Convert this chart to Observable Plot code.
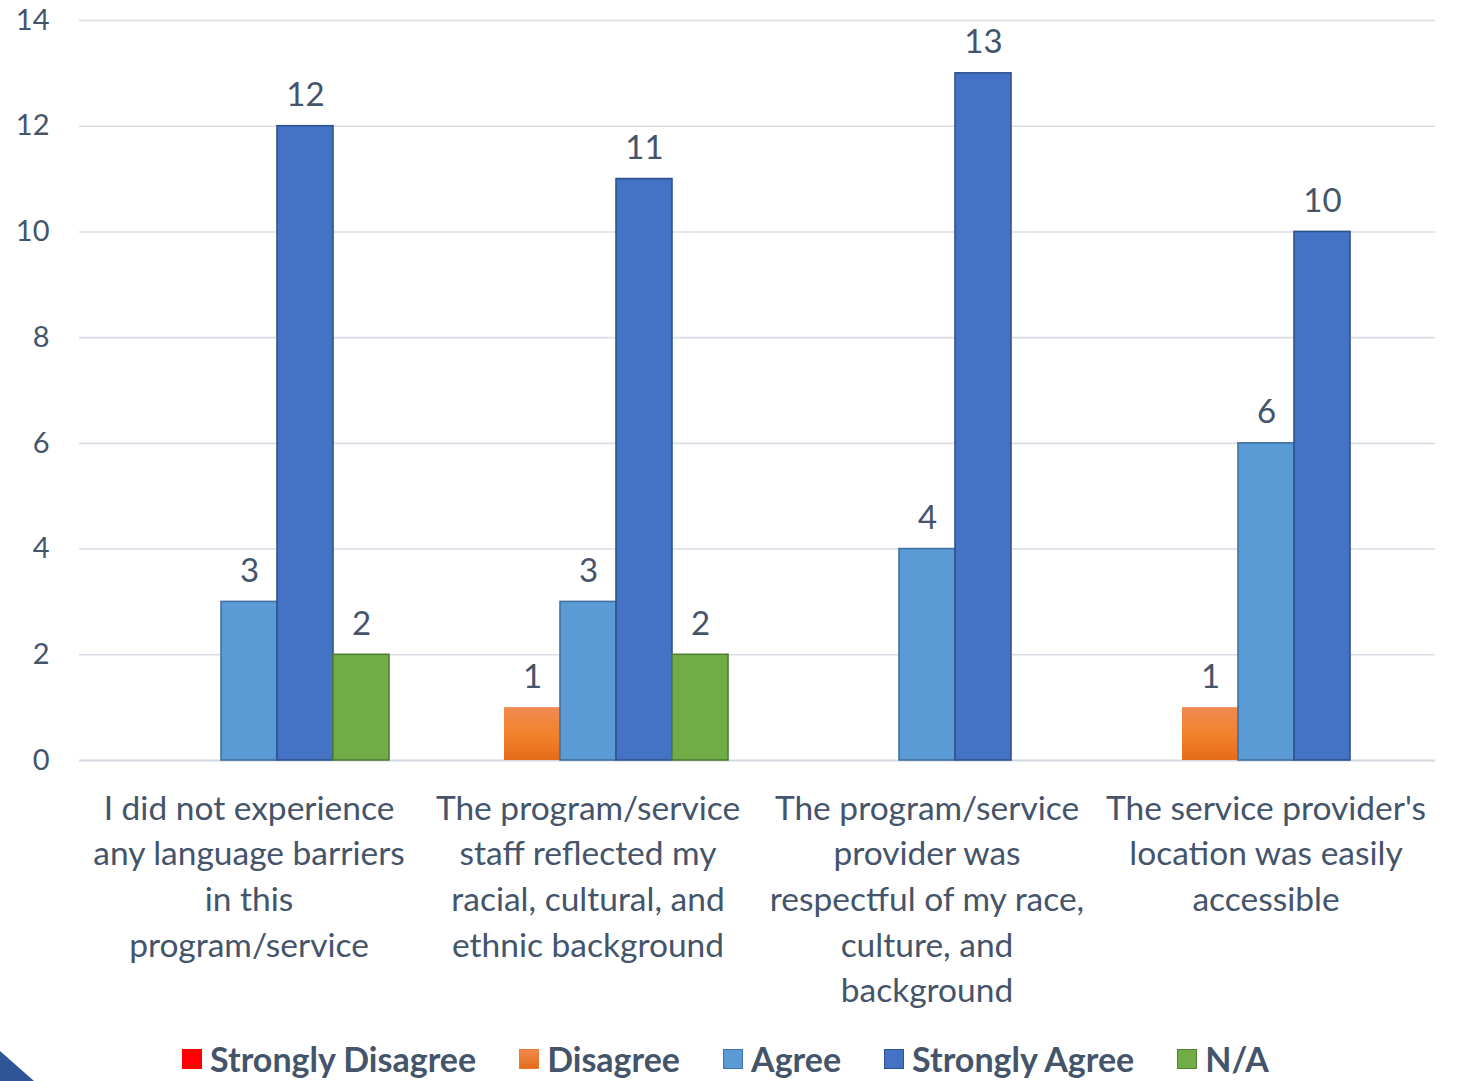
<!DOCTYPE html>
<html><head><meta charset="utf-8">
<script src="https://cdn.jsdelivr.net/npm/d3@7"></script>
<script src="https://cdn.jsdelivr.net/npm/@observablehq/plot@0.6"></script>
<style>
html,body{margin:0;padding:0;background:#fff}
body{width:1461px;height:1081px;overflow:hidden;position:relative;font-family:Lato,"Open Sans",sans-serif}
#chart{position:absolute;left:0;top:0}
#legend{position:absolute;left:0;top:1036px;width:1451px;height:45px;display:flex;justify-content:center;align-items:center;gap:43px;box-sizing:border-box}
.item{display:flex;align-items:center;gap:8px;font-weight:700;font-size:34px;color:#44546A;white-space:nowrap}
.sw{width:18px;height:18px;border:1.5px solid transparent}
.tri{position:absolute;left:0;bottom:0;width:0;height:0;border-left:34px solid #2F5597;border-top:30px solid transparent}
</style></head><body>
<div id="chart"></div>
<div id="legend"></div>
<div class="tri"></div>
<script>
const categories = [
  "I did not experience any language barriers in this program/service",
  "The program/service staff reflected my racial, cultural, and ethnic background",
  "The program/service provider was respectful of my race, culture, and background",
  "The service provider's location was easily accessible"
];
const categoryLines = [
  "I did not experience\nany language barriers\nin this\nprogram/service",
  "The program/service\nstaff reflected my\nracial, cultural, and\nethnic background",
  "The program/service\nprovider was\nrespectful of my race,\nculture, and\nbackground",
  "The service provider's\nlocation was easily\naccessible"
];
const series = ["Strongly Disagree", "Disagree", "Agree", "Strongly Agree", "N/A"];
const stronglyDisagree = [0, 0, 0, 0];
const disagree = [0, 1, 0, 1];
const agree = [3, 3, 4, 6];
const stronglyAgree = [12, 11, 13, 10];
const notApplicable = [2, 2, 0, 0];
const yTicks = [0, 2, 4, 6, 8, 10, 12, 14];

const seriesValues = [stronglyDisagree, disagree, agree, stronglyAgree, notApplicable];
const fills = ["#FF0000", "url(#orangeGrad)", "#5B9BD5", "#4472C4", "#70AD47"];
const strokes = ["none", "none", "#41719C", "#2F528F", "#507E32"];
const swatchFill = ["#FF0000", "linear-gradient(#F08A50,#E46C1A)", "#5B9BD5", "#4472C4", "#70AD47"];
const swatchStroke = ["#FF0000", "#E97A30", "#41719C", "#2F528F", "#507E32"];

const rows = [];
categories.forEach((c, i) => series.forEach((s, j) => {
  const v = seriesValues[j][i];
  if (v > 0) rows.push({category: c, series: s, value: v, fill: fills[j], stroke: strokes[j]});
}));
const labelOf = new Map(categories.map((c, i) => [c, categoryLines[i]]));

const textColor = "#44546A";
const chart = Plot.plot({
  width: 1461, height: 1030,
  marginLeft: 78, marginRight: 25, marginTop: 20, marginBottom: 270,
  fx: {domain: categories, padding: 0, label: null},
  x: {domain: series, paddingInner: 0, paddingOuter: 0.478, axis: null},
  y: {domain: [0, 14], axis: null},
  color: {type: "identity"},
  style: {fontFamily: "Lato, 'Open Sans', sans-serif", color: textColor, background: "white", overflow: "visible"},
  marks: [
    Plot.ruleY(yTicks.filter(t => t > 0), {stroke: "#D9DEE6", strokeWidth: 1.6}),
    Plot.ruleY([0], {stroke: "#D3D8E0", strokeWidth: 2}),
    Plot.axisY({ticks: yTicks, tickSize: 0, tickPadding: 30, fontSize: 29, fill: textColor, label: null}),
    Plot.axisFx({anchor: "bottom", tickSize: 0, tickPadding: 27, fontSize: 33.5, lineHeight: 1.36, fill: textColor, label: null, tickFormat: c => labelOf.get(c)}),
    Plot.barY(rows, {fx: "category", x: "series", y: "value", fill: "fill", stroke: "stroke", strokeWidth: 1.6}),
    Plot.text(rows, {fx: "category", x: "series", y: "value", text: d => String(d.value), lineAnchor: "bottom", dy: -20, fontSize: 33, fill: textColor})
  ]
});
d3.select(chart).insert("defs", ":first-child").html(
  '<linearGradient id="orangeGrad" x1="0" y1="0" x2="0" y2="1"><stop offset="0" stop-color="#F08A50"/><stop offset="0.5" stop-color="#F3822E"/><stop offset="1" stop-color="#E46C1A"/></linearGradient>'
);
document.getElementById("chart").appendChild(chart);

const legend = d3.select("#legend");
series.forEach((s, j) => {
  const it = legend.append("div").attr("class", "item");
  it.append("div").attr("class", "sw").style("background", swatchFill[j]).style("border-color", swatchStroke[j]);
  it.append("span").text(s);
});
</script>
</body></html>
